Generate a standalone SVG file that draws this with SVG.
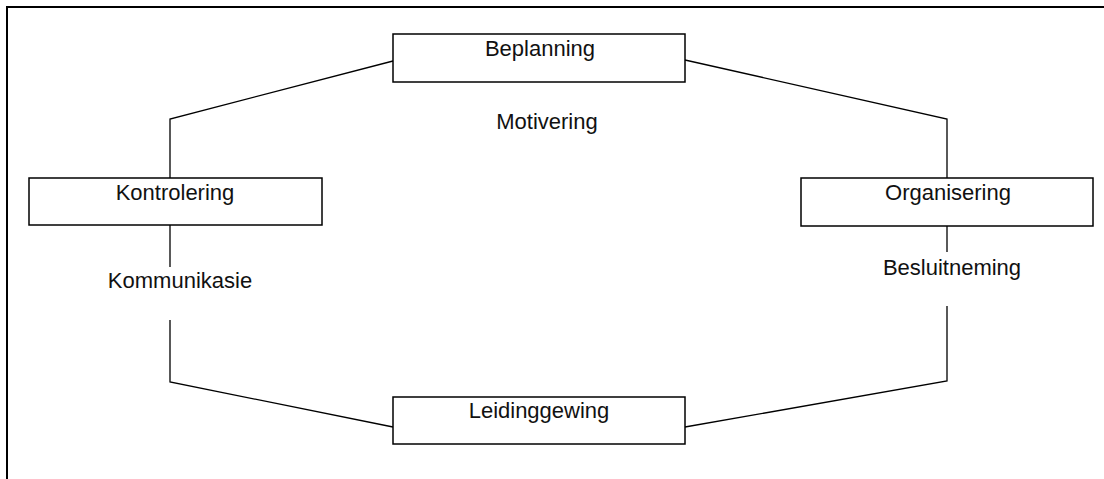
<svg xmlns="http://www.w3.org/2000/svg" width="1104" height="479" viewBox="0 0 1104 479">
  <style>
    .frame { fill: none; stroke: #000; stroke-width: 2; }
    .box { fill: #fff; stroke: #000; stroke-width: 1.5; }
    .link { fill: none; stroke: #000; stroke-width: 1.3; }
    .label { font-family: "Liberation Sans", Arial, sans-serif; font-size: 22px; fill: #111; text-anchor: middle; }
  </style>
  <rect width="1104" height="479" fill="#fff"/>
  <!-- page frame: left and top edges -->
  <path class="frame" d="M7 479 V7 H1104"/>

  <g id="connectors">
    <polyline class="link" points="393,61 170,119 170,178"/>
    <polyline class="link" points="685,60 947,119 947,178"/>
    <line class="link" x1="170" y1="225" x2="170" y2="267"/>
    <polyline class="link" points="170,320 170,382 393,427"/>
    <line class="link" x1="947" y1="226" x2="947" y2="252"/>
    <polyline class="link" points="947,306 947,381 685,427"/>
  </g>

  <g id="beplanning">
    <rect class="box" x="393" y="34" width="292" height="48"/>
    <text class="label" x="540" y="56">Beplanning</text>
  </g>
  <g id="kontrolering">
    <rect class="box" x="29" y="178" width="293" height="47"/>
    <text class="label" x="175" y="200">Kontrolering</text>
  </g>
  <g id="organisering">
    <rect class="box" x="801" y="178" width="292" height="48"/>
    <text class="label" x="948" y="200">Organisering</text>
  </g>
  <g id="leidinggewing">
    <rect class="box" x="393" y="397" width="292" height="47"/>
    <text class="label" x="539" y="418">Leidinggewing</text>
  </g>
  <g id="motivering">
    <text class="label" x="547" y="129">Motivering</text>
  </g>
  <g id="kommunikasie">
    <text class="label" x="180" y="288">Kommunikasie</text>
  </g>
  <g id="besluitneming">
    <text class="label" x="952" y="275">Besluitneming</text>
  </g>
</svg>
